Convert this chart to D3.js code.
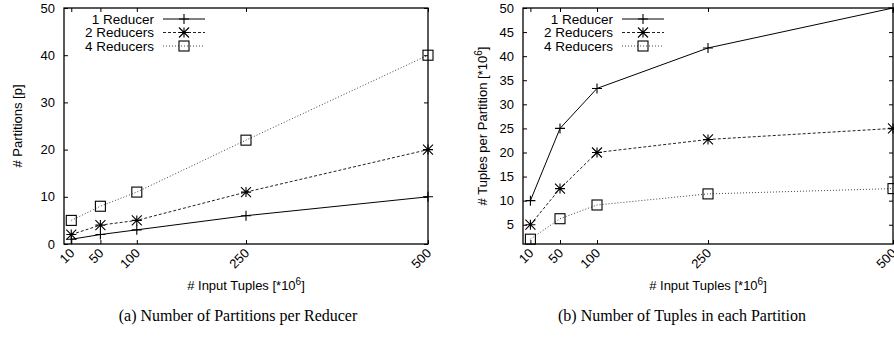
<!DOCTYPE html>
<html>
<head>
<meta charset="utf-8">
<script src="https://cdn.jsdelivr.net/npm/d3@7"></script>
<style>
  body { margin: 0; background: #fff; }
  svg { display: block; }
  .tick text { font-family: "Liberation Sans", Arial, sans-serif; font-size: 13px; fill: #000; }
  .lbl { font-family: "Liberation Sans", Arial, sans-serif; font-size: 13px; fill: #000; }
  .leg { font-family: "Liberation Sans", Arial, sans-serif; font-size: 13.5px; fill: #000; }
  .cap { font-family: "Liberation Serif", "DejaVu Serif", serif; font-size: 16px; fill: #000; }
</style>
</head>
<body>
<div id="chart"></div>
<script>
// Data
const inputTuples = [10, 50, 100, 250, 500];
const seriesNames = ["1 Reducer", "2 Reducers", "4 Reducers"];
const partitions1 = [1, 2, 3, 6, 10];
const partitions2 = [2, 4, 5, 11, 20];
const partitions4 = [5, 8, 11, 22, 40];
const tuples1 = [10, 25, 33.3, 41.7, 50];
const tuples2 = [5, 12.5, 20, 22.7, 25];
const tuples4 = [2, 6.25, 9.1, 11.4, 12.5];
const yTicksA = [0, 10, 20, 30, 40, 50];
const yTicksB = [5, 10, 15, 20, 25, 30, 35, 40, 45, 50];

const width = 894, height = 347;
const svg = d3.select("#chart").append("svg")
    .attr("width", width)
    .attr("height", height);

// line styles per series
const styles = [
    { dash: null, color: "#000", marker: "plus" },
    { dash: "3,2", color: "#222", marker: "star" },
    { dash: "1,2", color: "#444", marker: "square" }
];

function drawMarker(g, type, cx, cy) {
    const s = 5;
    if (type === "plus") {
        g.append("path").attr("d", `M${cx - s},${cy}H${cx + s}M${cx},${cy - s}V${cy + s}`)
            .attr("stroke", "#000").attr("stroke-width", 1.1).attr("fill", "none");
    } else if (type === "star") {
        g.append("path").attr("d", `M${cx - s},${cy}H${cx + s}M${cx},${cy - s}V${cy + s}` +
            `M${cx - s},${cy - s}L${cx + s},${cy + s}M${cx - s},${cy + s}L${cx + s},${cy - s}`)
            .attr("stroke", "#000").attr("stroke-width", 1.1).attr("fill", "none");
    } else {
        g.append("rect").attr("x", cx - s).attr("y", cy - s).attr("width", 2 * s).attr("height", 2 * s)
            .attr("stroke", "#000").attr("stroke-width", 1.1).attr("fill", "none");
    }
}

function panel(opts) {
    const x = d3.scaleLinear().domain([0, 500]).range(opts.xr);
    const y = d3.scaleLinear().domain(opts.yd).range([244, 8]);
    const g = svg.append("g");

    // y axis with inward ticks
    const ya = g.append("g").attr("transform", `translate(${opts.xr[0]},0)`)
        .call(d3.axisLeft(y).tickValues(opts.yTicks).tickSize(-4).tickPadding(9));
    ya.select(".domain").remove();
    // mirrored ticks on right
    const yr = g.append("g").attr("transform", `translate(${opts.xr[1]},0)`)
        .call(d3.axisRight(y).tickValues(opts.yTicks).tickSize(-4).tickFormat(""));
    yr.select(".domain").remove();

    // x axis
    const xa = g.append("g").attr("transform", "translate(0,244)")
        .call(d3.axisBottom(x).tickValues(inputTuples).tickSize(-4).tickFormat(""));
    xa.select(".domain").remove();
    const xt = g.append("g").attr("transform", "translate(0,8)")
        .call(d3.axisTop(x).tickValues(inputTuples).tickSize(-4).tickFormat(""));
    xt.select(".domain").remove();
    g.selectAll(".tick line").attr("stroke", "#000");

    // rotated x tick labels
    g.selectAll(".xlab").data(inputTuples).enter().append("text")
        .attr("class", "lbl")
        .attr("text-anchor", "end")
        .attr("transform", d => `translate(${x(d) + 4},${254}) rotate(-45)`)
        .text(d => d);

    // frame
    g.append("rect")
        .attr("x", opts.xr[0]).attr("y", 8)
        .attr("width", opts.xr[1] - opts.xr[0]).attr("height", 236)
        .attr("fill", "none").attr("stroke", "#000").attr("stroke-width", 1.3);

    // series
    opts.series.forEach((vals, i) => {
        const st = styles[i];
        const line = d3.line().x((d, j) => x(inputTuples[j])).y(d => y(d));
        g.append("path").datum(vals)
            .attr("d", line)
            .attr("fill", "none")
            .attr("stroke", st.color)
            .attr("stroke-width", 1)
            .attr("stroke-dasharray", st.dash);
        vals.forEach((v, j) => drawMarker(g, st.marker, x(inputTuples[j]), y(v)));
    });

    // legend
    seriesNames.forEach((name, i) => {
        const ly = 19 + i * 13.5;
        const st = styles[i];
        g.append("text").attr("class", "leg")
            .attr("x", opts.legX).attr("y", ly).attr("dy", "0.35em")
            .attr("text-anchor", "end").text(name);
        g.append("line")
            .attr("x1", opts.legX + 9).attr("x2", opts.legX + 51)
            .attr("y1", ly).attr("y2", ly)
            .attr("stroke", st.color).attr("stroke-width", 1)
            .attr("stroke-dasharray", st.dash);
        drawMarker(g, st.marker, opts.legX + 30, ly);
    });

    // axis titles
    const xl = g.append("text").attr("class", "lbl")
        .attr("x", (opts.xr[0] + opts.xr[1]) / 2).attr("y", 290)
        .attr("text-anchor", "middle");
    xl.append("tspan").text("# Input Tuples [*10");
    xl.append("tspan").attr("dy", -5).attr("font-size", 10).text("6");
    xl.append("tspan").attr("dy", 5).text("]");

    const yl = g.append("text").attr("class", "lbl")
        .attr("transform", `translate(${opts.yLabX},126) rotate(-90)`)
        .attr("text-anchor", "middle");
    opts.yTitle.forEach(t => {
        const ts = yl.append("tspan").text(t.s);
        if (t.sup) ts.attr("dy", -5).attr("font-size", 10);
        if (t.after) ts.attr("dy", 5);
    });

    svg.append("text").attr("class", "cap")
        .attr("x", opts.capX).attr("y", 321)
        .attr("text-anchor", "middle").text(opts.caption);
}

panel({
    xr: [64, 428], yd: [0, 50], yTicks: yTicksA,
    series: [partitions1, partitions2, partitions4],
    legX: 154, yLabX: 22,
    yTitle: [{ s: "# Partitions [p]" }],
    capX: 238, caption: "(a) Number of Partitions per Reducer"
});

panel({
    xr: [523, 893], yd: [1, 50], yTicks: yTicksB,
    series: [tuples1, tuples2, tuples4],
    legX: 613, yLabX: 487,
    yTitle: [{ s: "# Tuples per Partition [*10" }, { s: "6", sup: true }, { s: "]", after: true }],
    capX: 682, caption: "(b) Number of Tuples in each Partition"
});
</script>
</body>
</html>
